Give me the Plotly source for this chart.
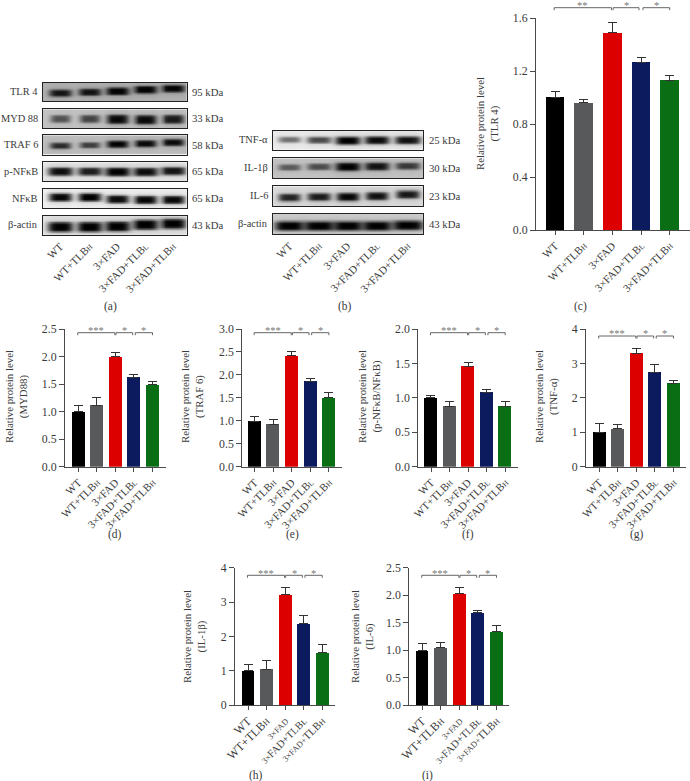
import numpy as np
import plotly.graph_objects as go

W, H = 690, 781
FONT = "Liberation Serif"
TEXT = "#3a3a3a"
AXIS = "#4a4a4a"

def sz(px, t):
    return "<span style='font-size:%gpx'>%s</span>" % (px, t)

TLBH = "TLB" + sz(7.5, "H")
TLBL = "TLB" + sz(7.5, "L")
groups = ["WT", "WT+" + TLBH, "3×FAD", "3×FAD+" + TLBL, "3×FAD+" + TLBH]
groups_hi = [sz(12, "WT"), sz(12, "WT+TLB") + sz(8.5, "H"), sz(8.5, "3×FAD"),
             sz(8.5, "3×") + sz(10.5, "FAD+TLB") + sz(8, "L"),
             sz(8.5, "3×FAD+") + sz(11, "TLB") + sz(8, "H")]
colors = ["#000000", "#58595b", "#dc0000", "#0c1a5e", "#0a6f14"]

# ---- bar values (mean, upper error cap) ----
tlr4 = [1.00, 0.96, 1.49, 1.265, 1.13];  tlr4_top = [1.05, 0.985, 1.57, 1.30, 1.17]
myd88 = [1.00, 1.12, 2.00, 1.62, 1.49];  myd88_top = [1.12, 1.26, 2.08, 1.68, 1.54]
traf6 = [0.99, 0.92, 2.42, 1.86, 1.50];  traf6_top = [1.10, 1.03, 2.51, 1.92, 1.61]
pnfkb = [1.00, 0.88, 1.46, 1.08, 0.88];  pnfkb_top = [1.04, 0.95, 1.52, 1.12, 0.94]
tnfa = [1.00, 1.10, 3.30, 2.75, 2.43];   tnfa_top = [1.25, 1.22, 3.42, 2.97, 2.50]
il1b = [1.00, 1.05, 3.22, 2.38, 1.54];   il1b_top = [1.19, 1.30, 3.42, 2.60, 1.78]
il6 = [0.99, 1.05, 2.03, 1.69, 1.34];    il6_top = [1.12, 1.14, 2.14, 1.73, 1.45]
y_ticks_c = [0.0, 0.4, 0.8, 1.2, 1.6]
y_ticks_25 = [0.0, 0.5, 1.0, 1.5, 2.0, 2.5]
y_ticks_30 = [0.0, 0.5, 1.0, 1.5, 2.0, 2.5, 3.0]
y_ticks_20 = [0.0, 0.5, 1.0, 1.5, 2.0]
y_ticks_4 = [0, 1, 2, 3, 4]
stars = ["***", "*", "*"]
stars_c = ["**", "*", "*"]

# ---- blot band strengths per lane ----
b_tlr4 = [0.88, 0.88, 0.99, 0.99, 0.97]
b_myd88 = [0.55, 0.62, 0.95, 0.95, 0.85]
b_traf6 = [0.75, 0.65, 0.98, 0.95, 0.94]
b_pnf = [0.94, 0.86, 1.00, 0.94, 0.90]
b_nf = [0.97, 1.00, 0.95, 0.98, 0.96]
b_actin_a = [1.00, 1.00, 1.00, 1.00, 1.00]
b_tnf = [0.48, 0.65, 1.00, 0.95, 0.92]
b_il1 = [0.50, 0.58, 1.00, 0.90, 0.68]
b_il6 = [0.82, 0.86, 0.97, 0.92, 0.88]
b_actin_b = [1.00, 1.00, 1.00, 1.00, 1.00]

fig = go.Figure()
axn = [0]

def fx(p): return p / W
def fy(p): return 1 - p / H

def new_axes(l, r, t, b, xa, ya):
    axn[0] += 1
    n = axn[0]
    s = "" if n == 1 else str(n)
    xa = dict(xa, domain=[fx(l), fx(r)], anchor="y" + s)
    ya = dict(ya, domain=[fy(b), fy(t)], anchor="x" + s)
    fig.layout["xaxis" + s] = xa
    fig.layout["yaxis" + s] = ya
    return "x" + s, "y" + s

# full-figure overlay axes in pixels: text is placed on these
hidden = dict(visible=False, showgrid=False, zeroline=False, fixedrange=True)
new_axes(0, W, 0, H, dict(hidden, range=[0, W]), dict(hidden, range=[H, 0]))

def note(x, y, text, size=11, xanchor="center", yanchor="middle", angle=0, color=TEXT):
    fig.add_annotation(xref="x", yref="y", x=x, y=y, text=text,
                       showarrow=False, xanchor=xanchor, yanchor=yanchor, textangle=angle,
                       font=dict(family=FONT, size=size, color=color),
                       borderpad=0, borderwidth=0)

def bar_panel(left, right, top, bottom, c0, step, width, vals, tops, ymax, ticks, fmt,
              title, title_x, title_y, label, label_x, label_y, br_y, star_txt, names=groups,
              label_size=11):
    rng = [(left - c0) / step, (right - c0) / step]
    xa = dict(range=rng, tickmode="array", tickvals=list(range(5)), ticktext=names, tickangle=-45,
              ticks="outside", ticklen=4, tickwidth=1, tickcolor=AXIS, showline=True, linecolor=AXIS,
              linewidth=1.2, showgrid=False, zeroline=False,
              tickfont=dict(family=FONT, size=label_size, color=TEXT))
    ya = dict(range=[0, ymax], tickmode="array", tickvals=ticks, ticktext=[fmt % v for v in ticks],
              ticks="outside", ticklen=5, tickwidth=1, tickcolor=AXIS, showline=True, linecolor=AXIS,
              linewidth=1.2, showgrid=False, zeroline=False,
              tickfont=dict(family=FONT, size=11.8, color=TEXT))
    xn, yn = new_axes(left, right, top, bottom, xa, ya)
    err = [t - v for t, v in zip(tops, vals)]
    fig.add_trace(go.Bar(x=list(range(5)), y=vals, width=width, xaxis=xn, yaxis=yn,
                         marker=dict(color=colors, line=dict(width=0)),
                         error_y=dict(type="data", symmetric=False, array=err, arrayminus=[0] * 5,
                                      color="#333333", thickness=1, width=4.5),
                         showlegend=False))
    # significance brackets on hidden axes that reach above the panel
    unit = ymax / (bottom - top)
    bt = br_y - 4 if br_y < top + 5 else top
    yb = (bottom - br_y) * unit
    leg = 2.5 * unit
    xo, yo = new_axes(left, right, bt, bottom, dict(hidden, range=rng),
                      dict(hidden, range=[0, (bottom - bt) * unit]))
    spans = [(-0.03, 1.97), (2.03, 2.93), (3.07, 4.0)]
    for (a, b), st in zip(spans, star_txt):
        fig.add_trace(go.Scatter(x=[a, a, b, b], y=[yb - leg, yb, yb, yb - leg], mode="lines",
                                 line=dict(color="#555555", width=0.9), cliponaxis=False,
                                 xaxis=xo, yaxis=yo, showlegend=False, hoverinfo="skip"))
        px = c0 + step * (a + b) / 2
        note(px, br_y - 2.2, st, size=10.5, color="#777777")
    note(title_x, title_y, "Relative protein level<br>" + title, size=10.8, angle=-90)
    note(label_x, label_y, label, size=11.5)

P = "%.1f"
bar_panel(536, 690, 18.3, 230, 555, 28.67, 0.65, tlr4, tlr4_top, 1.6, y_ticks_c, P,
          "(TLR 4)", 487, 124, "(c)", 580, 306, 7.7, stars_c)
bar_panel(65, 165.7, 329, 466.7, 78.3, 18.55, 0.7, myd88, myd88_top, 2.5, y_ticks_25, P,
          "(MYD88)", 16, 397, "(d)", 115, 534, 332.7, stars)
bar_panel(242.3, 342.3, 329, 466.7, 254.7, 18.55, 0.7, traf6, traf6_top, 3.0, y_ticks_30, P,
          "(TRAF 6)", 192, 397, "(e)", 292, 534, 332.7, stars)
bar_panel(418.3, 518.3, 329, 466.7, 431, 18.55, 0.7, pnfkb, pnfkb_top, 2.0, y_ticks_20, P,
          "(p-NFκB/NFκB)", 369, 397, "(f)", 468, 534, 332.7, stars)
bar_panel(586, 685.7, 329, 466.7, 599.3, 18.55, 0.7, tnfa, tnfa_top, 4, y_ticks_4, "%d",
          "(TNF-α)", 546, 397, "(g)", 637, 534, 336, stars)
bar_panel(235, 335, 567.7, 705.3, 248, 18.55, 0.7, il1b, il1b_top, 4, y_ticks_4, "%d",
          "(IL-1β)", 194, 637, "(h)", 256, 775, 575.3, stars, names=groups_hi)
bar_panel(409.3, 509.3, 567.7, 705.3, 422.3, 18.55, 0.7, il6, il6_top, 2.5, y_ticks_25, P,
          "(IL-6)", 362, 637, "(i)", 427, 775, 575.3, stars, names=groups_hi)

def blot(l, r, t, b, lanes, strength, bg, off, halfw, halfh, name, kda, name_x, kda_x, ticks=False):
    # lanes in px; off: band vertical centre (fraction of box height) per lane
    xs = np.linspace(l, r, 150)
    ys = np.linspace(t, b, 30)
    xg, yg = np.meshgrid(xs, ys)
    z = np.full(xg.shape, float(bg))
    for cx, s, o in zip(lanes, strength, off):
        cy = t + o * (b - t)
        hh = halfh * (0.6 + 0.6 * s)
        hw = halfw * (0.85 + 0.2 * s)
        core = np.exp(-((xg - cx) / hw) ** 4 - ((yg - cy) / hh) ** 4)
        halo = np.exp(-((xg - cx) / (hw * 1.2)) ** 4 - ((yg - cy) / (hh * 1.8)) ** 2)
        z = z * (1 - s * core) * (1 - 0.15 * s * halo)
    xa = dict(range=[l, r], showline=True, mirror=True, linecolor="#222222", linewidth=1.2,
              showgrid=False, zeroline=False, ticks="", showticklabels=False)
    if ticks:
        xa.update(tickmode="array", tickvals=list(lanes), ticktext=groups, tickangle=-45,
                  showticklabels=True, ticklen=0, tickfont=dict(family=FONT, size=11, color=TEXT))
    ya = dict(range=[b, t], showline=True, mirror=True, linecolor="#222222", linewidth=1.2,
              showgrid=False, zeroline=False, ticks="", showticklabels=False)
    xn, yn = new_axes(l, r, t, b, xa, ya)
    fig.add_trace(go.Heatmap(x=xs, y=ys, z=z, zmin=0, zmax=255, zsmooth="best", xaxis=xn, yaxis=yn,
                             colorscale=[[0, "#000000"], [1, "#ffffff"]], showscale=False, hoverinfo="skip"))
    note(name_x, (t + b) / 2 - 0.5, name, size=10.4, xanchor="right")
    note(kda_x, (t + b) / 2 - 0.5, kda, size=10.7, xanchor="left")

la = [60, 89.3, 117, 145, 172.7]
lb = [289.3, 318.7, 347.3, 376.7, 407.3]
blot(43, 186.7, 82.7, 101.3, la, b_tlr4, 178, [0.55, 0.5, 0.45, 0.36, 0.3], 11, 3.2, "TLR 4", "95 kDa", 38, 192)
blot(43, 186.7, 109.3, 128, la, b_myd88, 195, [0.5, 0.5, 0.52, 0.55, 0.52], 10.5, 4.0, "MYD 88", "33 kDa", 38, 192)
blot(43, 186.7, 135.3, 154.7, la, b_traf6, 190, [0.53, 0.5, 0.45, 0.42, 0.36], 10.5, 3.0, "TRAF 6", "58 kDa", 38, 192)
blot(43, 186.7, 162.3, 181, la, b_pnf, 232, [0.48, 0.48, 0.5, 0.5, 0.45], 12, 3.6, "p-NFκB", "65 kDa", 38, 192)
blot(43, 186.7, 189, 208.3, la, b_nf, 242, [0.42, 0.42, 0.52, 0.55, 0.55], 11, 3.5, "NFκB", "65 kDa", 38, 192)
blot(43, 186.7, 216, 234.7, la, b_actin_a, 230, [0.58, 0.58, 0.55, 0.45, 0.4], 12, 4.3, "β-actin", "43 kDa", 38, 192, ticks=True)

blot(272.7, 423.3, 130.7, 150, lb, b_tnf, 235, [0.45, 0.47, 0.5, 0.48, 0.48], 12, 3.4, "TNF-α", "25 kDa", 268, 429)
blot(272.7, 423.3, 158.3, 178, lb, b_il1, 195, [0.45, 0.42, 0.42, 0.4, 0.38], 12, 3.4, "IL-1β", "30 kDa", 268, 429)
blot(272.7, 423.3, 186.3, 206.3, lb, b_il6, 220, [0.55, 0.52, 0.52, 0.48, 0.4], 11, 3.6, "IL-6", "23 kDa", 268, 429)
blot(272.7, 423.3, 213.7, 234.3, lb, b_actin_b, 210, [0.58, 0.58, 0.58, 0.58, 0.55], 14, 4.0, "β-actin", "43 kDa", 268, 429, ticks=True)

note(110, 306, "(a)", size=11.5)
note(345, 306, "(b)", size=11.5)

fig.update_layout(width=W, height=H, margin=dict(l=0, r=0, t=0, b=0, pad=0, autoexpand=False),
                  paper_bgcolor="white",
                  plot_bgcolor="rgba(0,0,0,0)", showlegend=False, bargap=0,
                  font=dict(family=FONT, color=TEXT))
fig.write_html("out.html", config=dict(displayModeBar=False),
               post_script="document.body.style.margin='0';document.documentElement.style.overflow='hidden';")
